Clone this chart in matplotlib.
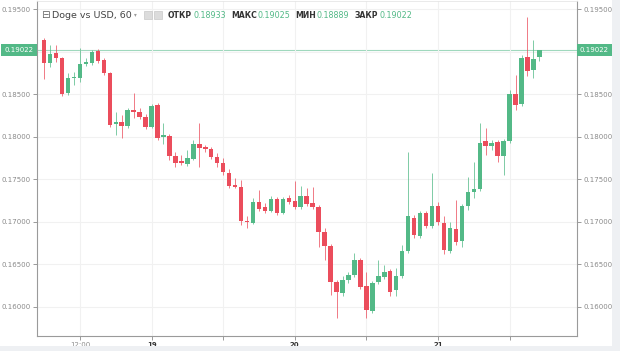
import numpy as np
import matplotlib
matplotlib.use("Agg")
import matplotlib.pyplot as plt
from matplotlib.patches import Rectangle

# hourly candles, first one at 18th 06:00 (hours counted from 18th 00:00)
start_hour = 6

opens = [0.19138, 0.18868, 0.18985, 0.18927, 0.18515, 0.18691, 0.18691, 0.18856, 0.18868, 0.19009,
         0.18903, 0.18750, 0.18150, 0.18174, 0.18127, 0.18315, 0.18291, 0.18233, 0.18115, 0.18374,
         0.17997, 0.18009, 0.17774, 0.17715, 0.17680, 0.17738, 0.17915, 0.17880, 0.17856, 0.17762,
         0.17691, 0.17574, 0.17432, 0.17409, 0.17009, 0.16985, 0.17233, 0.17174, 0.17127, 0.17268,
         0.17103, 0.17279, 0.17244, 0.17174, 0.17303, 0.17221, 0.17174, 0.16880, 0.16715, 0.16291,
         0.16162, 0.16315, 0.16374, 0.16550, 0.16244, 0.15950, 0.16291, 0.16350, 0.16421, 0.16197,
         0.16362, 0.16656, 0.17044, 0.16832, 0.17103, 0.16950, 0.17186, 0.16985, 0.16656, 0.16915,
         0.16774, 0.17186, 0.17350, 0.17385, 0.17950, 0.17891, 0.17938, 0.17774, 0.17950, 0.18503,
         0.18385, 0.18938, 0.18785, 0.18933]
closes = [0.18868, 0.18974, 0.18927, 0.18503, 0.18691, 0.18703, 0.18856, 0.18880, 0.18997, 0.18891,
          0.18750, 0.18138, 0.18174, 0.18127, 0.18315, 0.18291, 0.18233, 0.18115, 0.18362, 0.17985,
          0.18021, 0.17774, 0.17691, 0.17691, 0.17750, 0.17915, 0.17868, 0.17856, 0.17762, 0.17691,
          0.17585, 0.17421, 0.17409, 0.17009, 0.16997, 0.17233, 0.17150, 0.17127, 0.17268, 0.17103,
          0.17268, 0.17233, 0.17174, 0.17303, 0.17209, 0.17174, 0.16880, 0.16715, 0.16291, 0.16174,
          0.16315, 0.16374, 0.16550, 0.16232, 0.15962, 0.16280, 0.16362, 0.16409, 0.16174, 0.16362,
          0.16656, 0.17068, 0.16844, 0.17103, 0.16950, 0.17186, 0.16997, 0.16668, 0.16927, 0.16762,
          0.17186, 0.17350, 0.17385, 0.17927, 0.17891, 0.17927, 0.17774, 0.17950, 0.18503, 0.18374,
          0.18927, 0.18774, 0.18915, 0.19022]
highs = [0.19162, 0.19080, 0.19080, 0.18938, 0.18750, 0.18762, 0.19044, 0.18927, 0.19021, 0.19033,
         0.18927, 0.18762, 0.18291, 0.18256, 0.18338, 0.18515, 0.18338, 0.18268, 0.18385, 0.18397,
         0.18162, 0.18032, 0.17821, 0.17785, 0.17844, 0.17962, 0.18162, 0.17903, 0.17880, 0.17809,
         0.17750, 0.17621, 0.17515, 0.17491, 0.17068, 0.17279, 0.17374, 0.17221, 0.17303, 0.17291,
         0.17291, 0.17315, 0.17479, 0.17421, 0.17397, 0.17409, 0.17197, 0.16927, 0.16738, 0.16315,
         0.16362, 0.16409, 0.16633, 0.16574, 0.16409, 0.16303, 0.16550, 0.16491, 0.16444, 0.16456,
         0.16727, 0.17821, 0.17079, 0.17127, 0.17127, 0.17574, 0.17233, 0.17068, 0.16997, 0.17256,
         0.17209, 0.17527, 0.17703, 0.18162, 0.18103, 0.17962, 0.17962, 0.17974, 0.18550, 0.18727,
         0.18962, 0.19409, 0.19138, 0.19025]
lows = [0.18680, 0.18821, 0.18880, 0.18480, 0.18491, 0.18609, 0.18644, 0.18833, 0.18844, 0.18868,
        0.18727, 0.18115, 0.18021, 0.17985, 0.18103, 0.18221, 0.18209, 0.18091, 0.18103, 0.17962,
        0.17915, 0.17727, 0.17644, 0.17668, 0.17656, 0.17727, 0.17644, 0.17821, 0.17738, 0.17644,
        0.17550, 0.17397, 0.17397, 0.16962, 0.16927, 0.16974, 0.17127, 0.17103, 0.17115, 0.17079,
        0.17091, 0.17209, 0.17150, 0.17150, 0.17186, 0.17150, 0.16703, 0.16550, 0.16138, 0.15868,
        0.16127, 0.16280, 0.16350, 0.16209, 0.15868, 0.15927, 0.16268, 0.16327, 0.16127, 0.16127,
        0.16338, 0.16633, 0.16809, 0.16809, 0.16927, 0.16927, 0.16962, 0.16621, 0.16633, 0.16727,
        0.16703, 0.17138, 0.17279, 0.17362, 0.17785, 0.17844, 0.17703, 0.17550, 0.17927, 0.18315,
        0.18362, 0.18715, 0.18691, 0.18889]

last_price = 0.19022
price_ticks = [0.160, 0.165, 0.170, 0.175, 0.180, 0.185, 0.190, 0.195]
time_ticks = [12, 24, 48, 72]
time_labels = ["12:00", "19", "20", "21"]
minor_time_ticks = [36, 60, 84]

header_items = [("ОТКР", "0.18933"), ("МАКС", "0.19025"), ("МИН", "0.18889"), ("ЗАКР", "0.19022")]

GREEN = "#53b987"
RED = "#eb4d5c"
W, H = 620, 351

fig = plt.figure(figsize=(W / 100, H / 100), dpi=100)
fig.patch.set_facecolor("white")
ax = fig.add_axes([37 / W, 15 / H, 540 / W, 335 / H])

o = np.array(opens)
c = np.array(closes)
hi = np.array(highs)
lo = np.array(lows)
t = start_hour + np.arange(len(o))
up = c >= o
colors = np.where(up, GREEN, RED)

ax.vlines(t, lo, hi, colors=colors, linewidth=0.7, alpha=0.75, zorder=2)
body = np.abs(c - o)
body = np.maximum(body, 0.00004)
ax.bar(t, body, bottom=np.minimum(o, c), width=0.75, color=colors, linewidth=0, zorder=3)

ax.axhline(last_price, color="#9fd8bd", linewidth=0.8, zorder=1)

ax.set_xlim(4.8, 95.3)
ax.set_ylim(0.15656, 0.19597)

# the 0.19000 label sits under the last-price box, so it is left blank
ax.set_yticks(price_ticks)
ax.set_yticklabels(["" if abs(p - 0.190) < 1e-9 else "%.5f" % p for p in price_ticks])
ax.set_xticks(time_ticks)
ax.set_xticklabels(time_labels)
ax.set_xticks(minor_time_ticks, minor=True)
ax.grid(True, which="both", color="#f1f1f1", linewidth=0.8, zorder=0)

ax.tick_params(axis="y", which="both", left=True, right=True, labelleft=True, labelright=True,
               labelsize=5, colors="#8a8a8a", length=3, width=0.6, pad=1.5)
ax.tick_params(axis="x", which="both", labelsize=5, colors="#8a8a8a", length=3, width=0.6, pad=1.5)
for lbl in ax.get_xticklabels()[1:]:
    lbl.set_color("#333333")
    lbl.set_fontweight("bold")

for side in ["left", "right", "bottom"]:
    ax.spines[side].set_color("#9a9a9a")
    ax.spines[side].set_linewidth(0.8)
ax.spines["top"].set_color("#e6e6e6")
ax.spines["top"].set_linewidth(0.6)

# last price labels on both axes
ax.annotate("%.5f" % last_price, xy=(0, last_price), xycoords=("axes fraction", "data"),
            xytext=(-2.5, 0), textcoords="offset points", ha="right", va="center",
            fontsize=5, color="white",
            bbox=dict(boxstyle="square,pad=0.45", fc=GREEN, ec="none"))
ax.annotate("%.5f" % last_price, xy=(1, last_price), xycoords=("axes fraction", "data"),
            xytext=(2, 0), textcoords="offset points", ha="left", va="center",
            fontsize=5, color="white",
            bbox=dict(boxstyle="square,pad=0.45", fc=GREEN, ec="none"))

# header / legend line
def px(x, y):
    return x / W, 1 - y / H

fig.text(*px(41, 15), "⊟", fontsize=7.5, color="#666666", va="center")
fig.text(*px(52, 15), "Doge vs USD, 60", fontsize=6.8, color="#444444", va="center")
fig.text(*px(134, 15), "▾", fontsize=4, color="#999999", va="center")
for x0 in (144, 154):
    fig.patches.append(Rectangle(px(x0, 19), 8 / W, 8 / H, transform=fig.transFigure,
                                 facecolor="#dcdcdc", edgecolor="#c8c8c8", linewidth=0.5))
xs = [168, 231, 295, 355]
for (lab, val), x0 in zip(header_items, xs):
    tl = fig.text(*px(x0, 15), lab, fontsize=5.6, color="#333333", va="center", fontweight="bold")
    fig.canvas.draw()
    bb = tl.get_window_extent()
    fig.text(bb.x1 / W + 1 / W, 1 - 15 / H, val, fontsize=5.8, color=GREEN, va="center")

# screen border of the widget
fig.patches.append(Rectangle((612 / W, 0), 8 / W, 1, transform=fig.transFigure,
                             facecolor="#eef0f3", edgecolor="none"))
fig.patches.append(Rectangle((0, 0), 1, 5 / H, transform=fig.transFigure,
                             facecolor="#eef0f3", edgecolor="none"))

fig.savefig("out.png", dpi=100)
